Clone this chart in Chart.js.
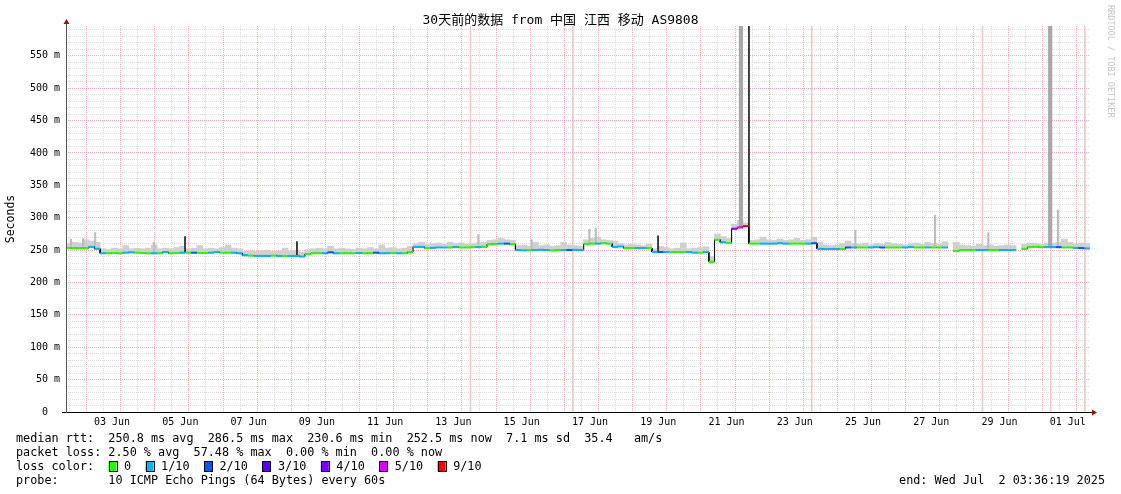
<!DOCTYPE html>
<html><head><meta charset="utf-8">
<script src="https://cdn.jsdelivr.net/npm/chart.js@4.4.1/dist/chart.umd.min.js"></script>
<style>html,body{margin:0;padding:0;background:#fff}canvas{display:block}</style>
</head><body>
<canvas id="c" width="1121" height="494" style="width:1121px;height:494px"></canvas>
<script>
// ---------- data (time = hours since Tue Jun 2 03:36:19 2025, 30 days) ----------
const SPAN_HOURS = 720;
const SAMPLE_HOURS = 4;
const FIRST_NOON_H = 8.4;           // Jun 2 12:00
const Y_MAX = 596;
const dayLabels = ['03 Jun','05 Jun','07 Jun','09 Jun','11 Jun','13 Jun','15 Jun','17 Jun','19 Jun','21 Jun','23 Jun','25 Jun','27 Jun','29 Jun','01 Jul'];

// median RTT (ms) per 4-hour sample
const median = [
 253,253,253,253,255,252,245,245,245.5,245,
 246,246.5,246,245.5,245,245,245,247,245,245.5,
 246,246,246,245.5,245.5,246,247,246,246,246,
 245,242,241.5,241,241,241,241.5,241,241,241,
 241,240,244,245,245,245,246.5,245,245,245,
 245,245.5,245,245,246,245,245,245.5,245,245,
 247,255,255,253,253.5,254,254,254,254.5,254,
 254,254.5,254.5,255,259,259.5,260,260,259,250,
 249.5,250,250,250.5,250,249.5,250,250,250,250.5,
 250,259.5,260,260,260.5,260,255,255.5,253,253,
 253,253,253,247,247,247,247,247,247,247,
 246,246,247,232,266,262,261,283,285,287,
 260,260,260,260,260,260.5,260,260,260,260,
 260,260.5,252,251.5,251.5,251.5,251.5,254,254,254,
 254,254,254.5,254,254,254,254,254,254.5,254,
 254,254,254,254,254,null,248.5,250,250,250,
 250,250,250,250,250,250,250,null,252,254.5,
 255,254.5,254.5,254.5,254.5,254,254,253.5,253,252.5
];
// lost pings out of 10 per sample
const lossTenths = [
 0,0,0,0,1,1,1,0,0,0,
 1,1,0,0,0,1,0,1,0,0,
 1,0,2,0,0,1,1,0,0,1,
 1,1,0,1,1,1,0,1,0,1,
 1,1,0,0,0,1,2,1,0,0,
 0,1,0,0,2,1,1,0,1,0,
 0,1,1,0,1,1,1,0,1,0,
 0,0,1,0,0,0,1,2,0,1,
 1,0,1,1,1,0,0,1,2,1,
 1,0,0,1,0,0,1,1,0,0,
 1,1,0,1,2,1,0,0,0,1,
 1,0,1,0,0,1,0,4,5,9,
 0,0,1,1,1,1,1,0,0,0,
 1,2,1,1,1,1,0,2,1,0,
 0,1,1,2,0,0,0,1,1,0,
 0,1,0,0,1,0,0,0,0,0,
 1,1,0,0,1,1,1,0,0,0,
 0,0,1,1,2,0,0,1,2,1
];
// upper edge of the smoke (ms) per sample
const smokeHi = [
 260,262,261,266,264,262,252,251,253,252,
 257,252,253,252,253,258,252,253,252,254,
 256,252,253,257,252,253,252,254,258,253,
 252,248,249,248,249,250,248,249,253,249,
 250,247,251,252,253,252,256,252,253,252,
 251,253,252,254,252,258,253,254,252,253,
 256,260,262,259,260,261,259,262,260,261,
 259,260,261,262,265,266,268,266,265,257,
 258,256,262,257,258,256,257,262,258,257,
 256,266,268,270,266,265,264,260,258,259,
 258,257,259,252,256,254,252,253,261,252,
 253,254,255,240,275,271,268,290,296,292,
 265,266,270,266,265,267,265,266,268,265,
 266,270,262,258,257,258,260,264,260,259,
 261,258,260,259,262,260,259,258,260,261,
 259,262,260,259,263,null,262,258,257,256,
 259,257,258,256,257,258,257,null,259,261,
 260,259,261,260,262,267,262,260,261,260
];
// full-height faint lines (hours)
const fullLineHours = [284.4, 356.4, 524.4, 644.4, 692.4, 716.4];
// broad dark smoke bars
const darkBarHours = [474.6, 692.0];
const darkBarLo = [284, 256];
const darkBarHi = [700, 700];
// thin light smoke spikes
const smokeSpikeHours = [3.5, 12.0, 20.5, 62.0, 290.0, 327.5, 368.0, 372.5, 555.0, 611.0, 648.5, 697.5];
const smokeSpikeLo    = [253, 253, 253, 246, 259, 250, 260, 260, 252, 256, 250, 255];
const smokeSpikeHi    = [267, 268, 277, 262, 274, 266, 282, 284, 281, 304, 277, 312];
// narrow median spikes (black)
const medSpikeHours = [83.7, 162.4, 416.3, 480.2];
const medSpikeLo    = [246, 241, 247, 260];
const medSpikeHi    = [271, 263, 272, 700];

const statLines = [
 'median rtt:  250.8 ms avg  286.5 ms max  230.6 ms min  252.5 ms now  7.1 ms sd  35.4   am/s',
 'packet loss: 2.50 % avg  57.48 % max  0.00 % min  0.00 % now'
];
const lossLegend = [[0,'0'],[1,'1/10'],[2,'2/10'],[3,'3/10'],[4,'4/10'],[5,'5/10'],[9,'9/10']];
const probeText = 'probe:       10 ICMP Echo Pings (64 Bytes) every 60s';
const endText = 'end: Wed Jul  2 03:36:19 2025';
const titleText = '30天前的数据 from 中国 江西 移动 AS9808';

// ---------- styles ----------
const LOSS_COLORS = {0:'#26ff00',1:'#00b8ff',2:'#0059ff',3:'#5e00ff',4:'#7e00ff',5:'#dd00ff',9:'#ff0000'};
const MONO = '"DejaVu Sans Mono", "Noto Sans CJK SC", monospace';
const MINOR = '#dcdcdc';
const MAJOR = '#f2b0b0';

// ---------- build datasets ----------
const linePts = [];
median.forEach((v, i) => {
  linePts.push({x: i*SAMPLE_HOURS, y: v});
  linePts.push({x: (i+1)*SAMPLE_HOURS, y: v});
});
const smokePts = smokeHi.map((h, i) => ({x: i*SAMPLE_HOURS + SAMPLE_HOURS/2, y: (h == null || median[i] == null) ? null : [median[i], h]}));
const fullPts = fullLineHours.map(h => ({x: h, y: [0, 700]}));
const darkPts = darkBarHours.map((h, i) => ({x: h, y: [darkBarLo[i], darkBarHi[i]]}));
const sSpikePts = smokeSpikeHours.map((h, i) => ({x: h, y: [smokeSpikeLo[i], smokeSpikeHi[i]]}));
const mSpikePts = medSpikeHours.map((h, i) => ({x: h, y: [medSpikeLo[i], medSpikeHi[i]]}));

const xGrid = [];
for (let h = FIRST_NOON_H; h <= SPAN_HOURS; h += 12) xGrid.push(+h.toFixed(2));
const yGrid = [];
for (let v = 0; v < Y_MAX - 1; v += 10) yGrid.push(v);

const deco = {
  id: 'deco',
  afterDraw(chart) {
    const ctx = chart.ctx, a = chart.chartArea;
    ctx.save();
    // axes
    ctx.strokeStyle = '#000'; ctx.lineWidth = 1;
    ctx.beginPath(); ctx.moveTo(a.left - 4, a.bottom + 0.5); ctx.lineTo(a.right + 4, a.bottom + 0.5); ctx.stroke();
    ctx.strokeStyle = '#555';
    ctx.beginPath(); ctx.moveTo(a.left + 0.5, a.bottom + 1); ctx.lineTo(a.left + 0.5, a.top - 4); ctx.stroke();
    ctx.fillStyle = '#991111';
    ctx.beginPath(); ctx.moveTo(a.right + 2, a.bottom - 2.5); ctx.lineTo(a.right + 2, a.bottom + 3.5); ctx.lineTo(a.right + 7, a.bottom + 0.5); ctx.closePath(); ctx.fill();
    ctx.beginPath(); ctx.moveTo(a.left - 2.5, a.top - 2); ctx.lineTo(a.left + 3.5, a.top - 2); ctx.lineTo(a.left + 0.5, a.top - 7); ctx.closePath(); ctx.fill();
    // title
    ctx.fillStyle = '#000';
    ctx.font = '13px ' + MONO; ctx.textAlign = 'center'; ctx.textBaseline = 'middle';
    ctx.fillText(titleText, 560.5, 21);
    // y title
    ctx.save(); ctx.translate(11, 219); ctx.rotate(-Math.PI/2);
    ctx.font = '11.5px ' + MONO; ctx.fillText('Seconds', 0, 0); ctx.restore();
    // watermark
    ctx.save(); ctx.translate(1110, 5); ctx.rotate(Math.PI/2);
    ctx.font = '8.5px ' + MONO; ctx.fillStyle = '#c4c4c4'; ctx.textAlign = 'left';
    ctx.fillText('RRDTOOL / TOBI OETIKER', 0, 0); ctx.restore();
    // legend
    ctx.font = '11.8px ' + MONO; ctx.textAlign = 'left'; ctx.fillStyle = '#000';
    ctx.fillText(statLines[0], 16, 439);
    ctx.fillText(statLines[1], 16, 453);
    ctx.fillText('loss color:', 16, 467);
    ctx.fillText(probeText, 16, 481);
    ctx.textAlign = 'right'; ctx.fillText(endText, 1105, 481); ctx.textAlign = 'left';
    const cw = ctx.measureText('0').width;
    let bx = 108.5;
    lossLegend.forEach(([k, lab]) => {
      ctx.fillStyle = LOSS_COLORS[k]; ctx.fillRect(bx, 461.5, 8, 10);
      ctx.strokeStyle = '#000'; ctx.lineWidth = 1; ctx.strokeRect(Math.round(bx) + 0.5, 461.5, 8, 10);
      ctx.fillStyle = '#000'; ctx.fillText(lab, bx + 15.5, 467);
      bx += 15.5 + cw * lab.length + 14.5;
    });
    ctx.restore();
  }
};

new Chart(document.getElementById('c'), {
  data: {
    datasets: [
      {type: 'line', data: linePts, borderColor: '#000', borderWidth: 1, pointRadius: 0, order: 2},
      {type: 'line', data: linePts, borderWidth: 2, pointRadius: 0, order: 1, borderCapStyle: 'butt',
       segment: {borderColor: c => (Math.abs(c.p0.parsed.x - c.p1.parsed.x) < 1e-6) ? 'rgba(0,0,0,0)' : LOSS_COLORS[lossTenths[Math.floor(c.p0DataIndex/2)]]}},
      {type: 'bar', data: mSpikePts, backgroundColor: '#333', barThickness: 1.2, grouped: false, order: 3},
      {type: 'bar', data: darkPts, backgroundColor: '#a8a8a8', barThickness: 3.5, grouped: false, order: 4},
      {type: 'bar', data: sSpikePts, backgroundColor: '#bdbdbd', barThickness: 1.5, grouped: false, order: 5},
      {type: 'bar', data: smokePts, backgroundColor: '#d0d0d0', barThickness: 6, grouped: false, order: 6},
      {type: 'bar', data: fullPts, backgroundColor: '#efcaca', barThickness: 1, grouped: false, order: 7}
    ]
  },
  options: {
    responsive: false, animation: false, devicePixelRatio: 1,
    layout: {padding: {top: 26, right: 31, bottom: 0, left: 0}},
    plugins: {legend: {display: false}, tooltip: {enabled: false}, title: {display: false}},
    scales: {
      x: {type: 'linear', min: 0, max: SPAN_HOURS, z: 1, offset: false,
          afterBuildTicks: s => { s.ticks = xGrid.map(v => ({value: v})); },
          afterFit: s => { s.height = 82; },
          grid: {color: c => (c.index % 2 === 1) ? MAJOR : MINOR, lineWidth: 1, drawTicks: false},
          border: {display: false, dash: [1, 1]},
          ticks: {autoSkip: false, maxRotation: 0, minRotation: 0, padding: 4, color: '#000',
                  font: {family: MONO, size: 10},
                  callback: (v, i) => (i % 4 === 2) ? dayLabels[(i - 2) / 4] : ''}},
      y: {type: 'linear', min: 0, max: Y_MAX, z: 1,
          afterBuildTicks: s => { s.ticks = yGrid.map(v => ({value: v})); },
          afterFit: s => { s.width = 66; },
          grid: {color: c => (c.tick && c.tick.value % 50 === 0) ? MAJOR : MINOR, lineWidth: 1, drawTicks: false},
          border: {display: false, dash: [1, 1]},
          ticks: {autoSkip: false, padding: 6, color: '#000', font: {family: MONO, size: 10},
                  callback: v => v === 0 ? '0  ' : (v % 50 === 0 ? v + ' m' : '')}}
    }
  },
  plugins: [deco]
});
</script>
</body></html>
